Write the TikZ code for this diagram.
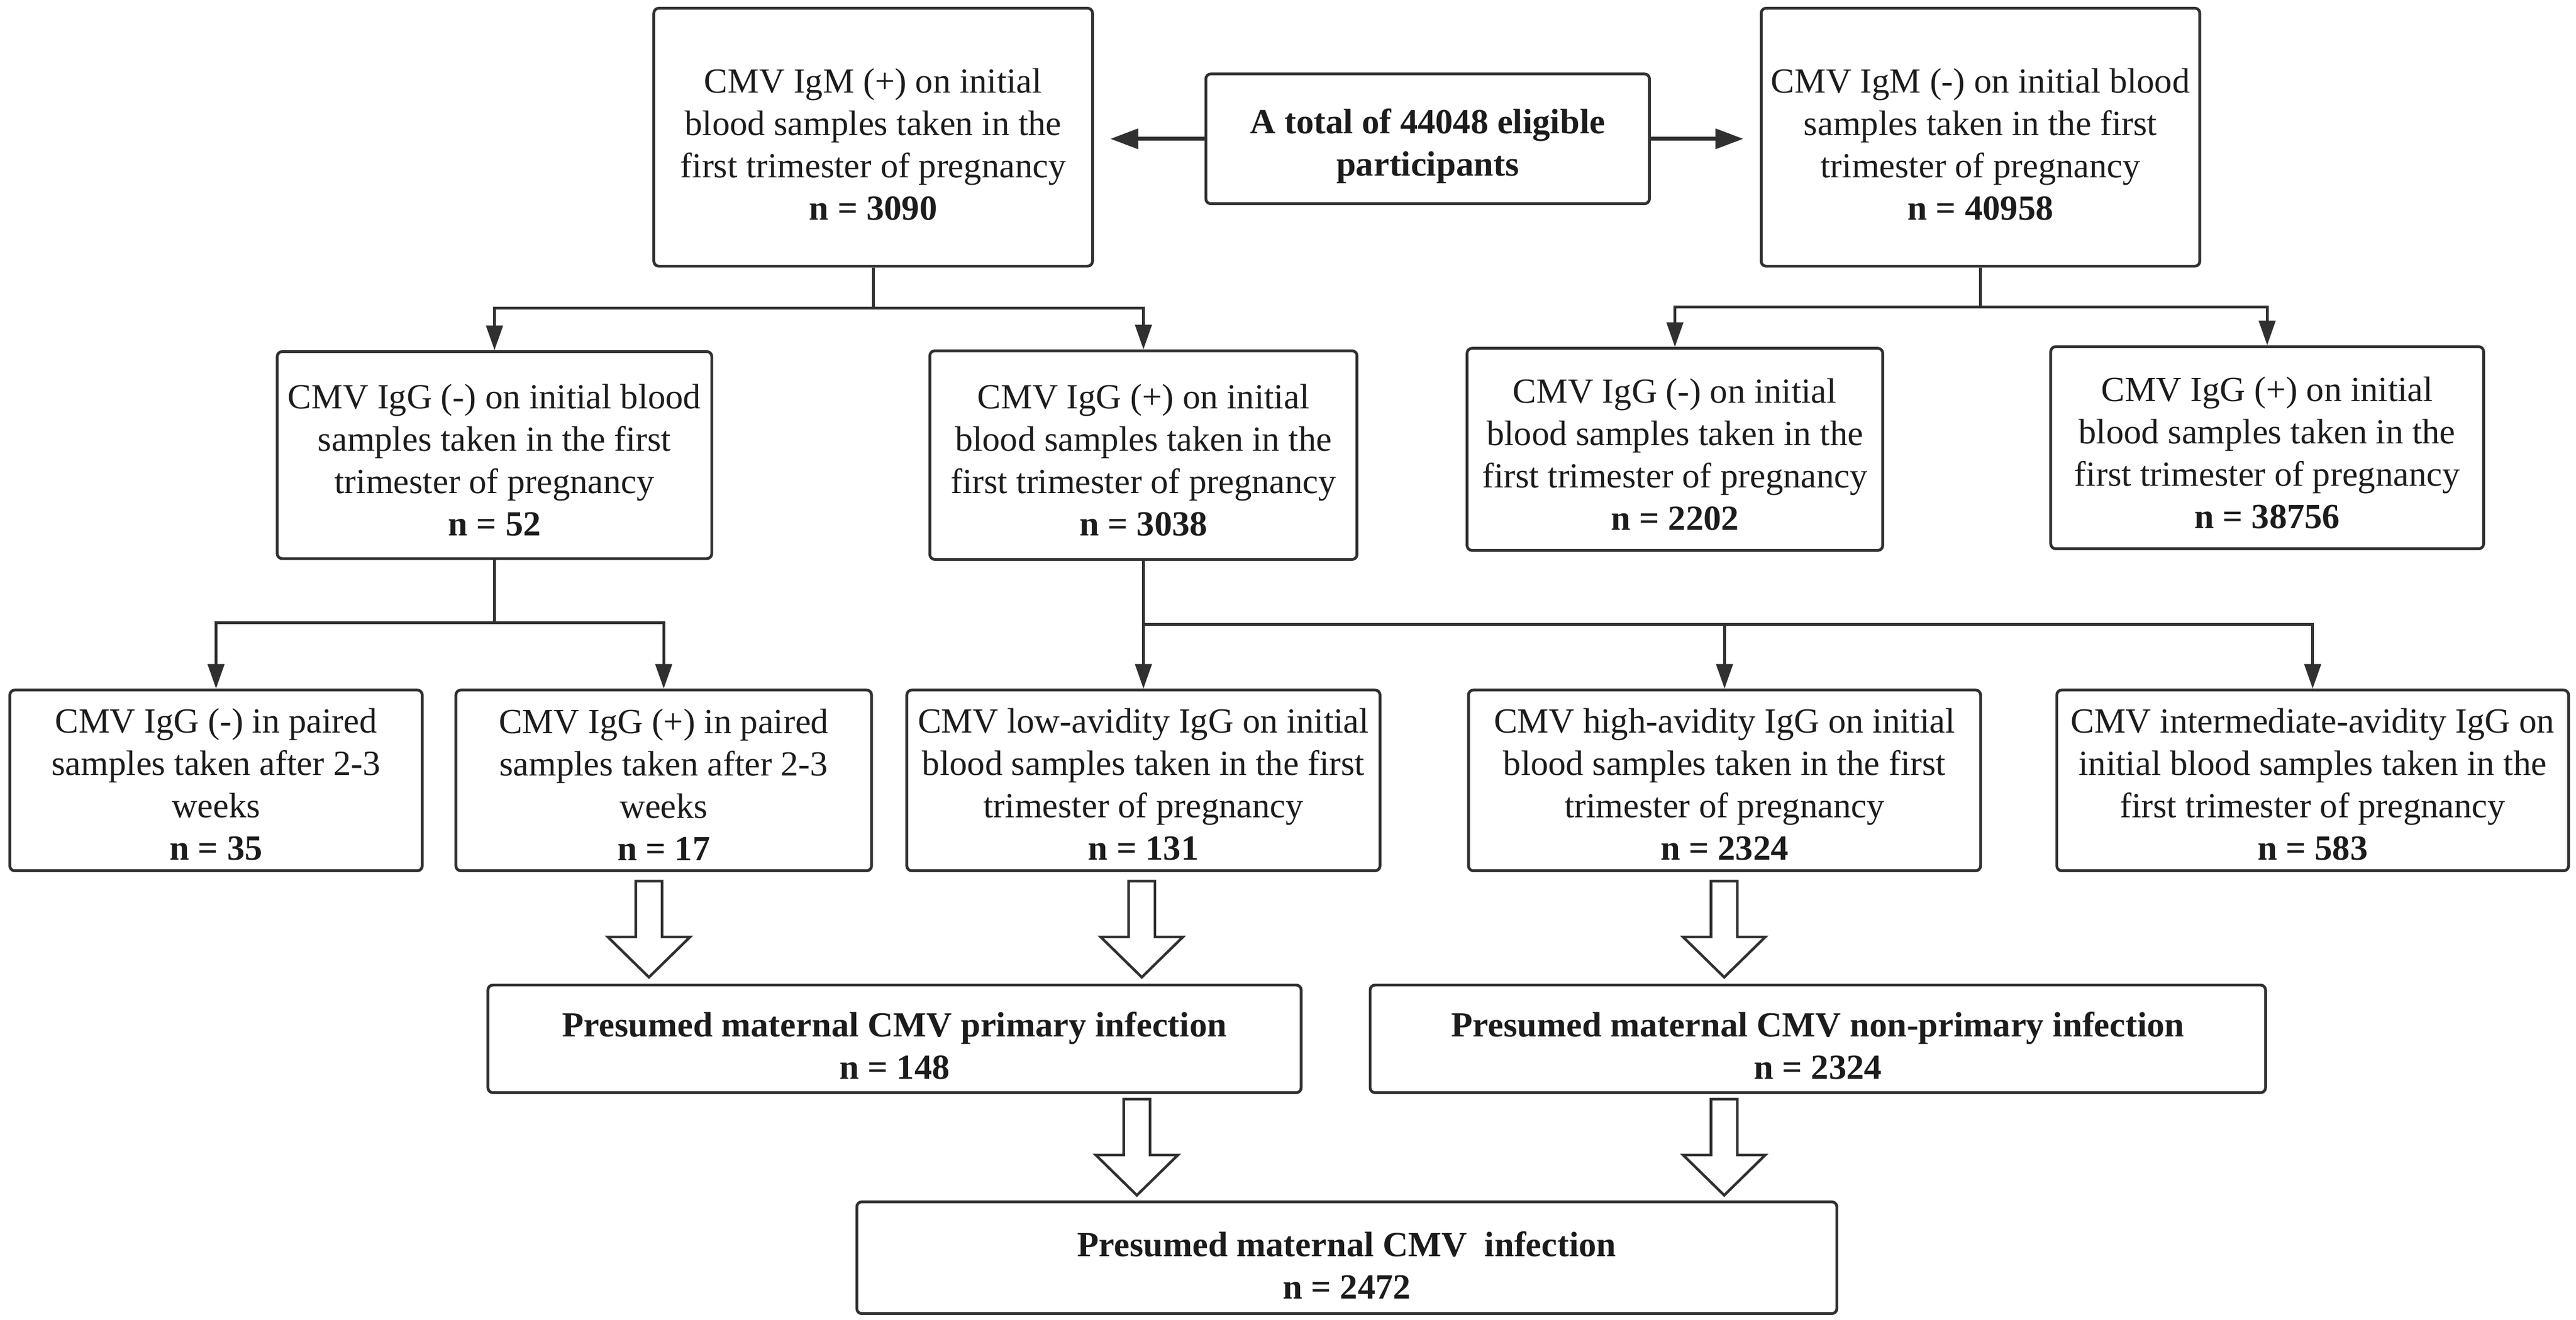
\documentclass[tikz,border=0pt]{standalone}
\usepackage{fontspec}
\setmainfont{Liberation Serif}
\usetikzlibrary{arrows.meta}
\definecolor{lc}{HTML}{303030}
\definecolor{tc}{HTML}{1C1C1C}
\newcommand\boxfont{\fontsize{21.5}{25.8}\selectfont}
\begin{document}
\begin{tikzpicture}[x=1pt,y=-1pt,
  box/.style={draw=lc,line width=1.7pt,rounded corners=3pt,fill=white,inner sep=0pt},
  txt/.style={align=center,inner sep=0pt,text=tc,font=\boxfont},
  boldtxt/.style={txt,font=\boxfont\bfseries},
  conn/.style={draw=lc,line width=1.7pt},
  arr/.style={conn,-{Triangle[length=15pt,width=10pt]}},
  harr/.style={draw=lc,line width=2.4pt,-{Triangle[length=17pt,width=12pt]},shorten >=10pt},
  pics/hollow/.style={code={\draw[draw=lc,line width=1.6pt,fill=white,line join=miter]
      (-8,0) -- (8,0) -- (8,34) -- (25,34) -- (0,58.5) -- (-25,34) -- (-8,34) -- cycle;}}]
\fill[white] (0,0) rectangle (1568,803.08);
\useasboundingbox (0,0) rectangle (1568,803.08);

% top row
\node[box,minimum width=270,minimum height=79] (A) at (869,84.5) {};
\node[boldtxt] (At) at ([yshift=-4.5pt]A.center) {A total of 44048 eligible\\participants};
\node[box,minimum width=267,minimum height=157] (B) at (531.5,83.5) {};
\node[txt] (Bt) at ([yshift=-4.5pt]B.center) {CMV IgM (+) on initial\\blood samples taken in the\\first trimester of pregnancy\\\textbf{n = 3090}};
\node[box,minimum width=267,minimum height=157] (C) at (1205.5,83.5) {};
\node[txt] (Ct) at ([yshift=-4.5pt]C.center) {CMV IgM (-) on initial blood\\samples taken in the first\\trimester of pregnancy\\\textbf{n = 40958}};

% second row
\node[box,minimum width=264.5,minimum height=126] (D) at (301,277) {};
\node[txt] (Dt) at ([yshift=-3pt]D.center) {CMV IgG (-) on initial blood\\samples taken in the first\\trimester of pregnancy\\\textbf{n = 52}};
\node[box,minimum width=260,minimum height=127] (E) at (696,277) {};
\node[txt] (Et) at ([yshift=-3pt]E.center) {CMV IgG (+) on initial\\blood samples taken in the\\first trimester of pregnancy\\\textbf{n = 3038}};
\node[box,minimum width=253,minimum height=123] (F) at (1019.5,273.5) {};
\node[txt] (Ft) at ([yshift=-3pt]F.center) {CMV IgG (-) on initial\\blood samples taken in the\\first trimester of pregnancy\\\textbf{n = 2202}};
\node[box,minimum width=263.5,minimum height=123] (G) at (1380,272.5) {};
\node[txt] (Gt) at ([yshift=-3pt]G.center) {CMV IgG (+) on initial\\blood samples taken in the\\first trimester of pregnancy\\\textbf{n = 38756}};

% third row
\node[box,minimum width=251,minimum height=110] (H) at (131.5,475) {};
\node[txt] (Ht) at ([yshift=-2.5pt]H.center) {CMV IgG (-) in paired\\samples taken after 2-3\\weeks\\\textbf{n = 35}};
\node[box,minimum width=253,minimum height=110] (I) at (404,475) {};
\node[txt] (It) at ([yshift=-2.5pt]I.center) {CMV IgG (+) in paired\\samples taken after 2-3\\weeks\\\textbf{n = 17}};
\node[box,minimum width=288,minimum height=110] (J) at (696,475) {};
\node[txt] (Jt) at ([yshift=-2.5pt]J.center) {CMV low-avidity IgG on initial\\blood samples taken in the first\\trimester of pregnancy\\\textbf{n = 131}};
\node[box,minimum width=311.7,minimum height=110] (K) at (1049.7,475) {};
\node[txt] (Kt) at ([yshift=-2.5pt]K.center) {CMV high-avidity IgG on initial\\blood samples taken in the first\\trimester of pregnancy\\\textbf{n = 2324}};
\node[box,minimum width=311.5,minimum height=110] (L) at (1407.7,475) {};
\node[txt] (Lt) at ([yshift=-2.5pt]L.center) {CMV intermediate-avidity IgG on\\initial blood samples taken in the\\first trimester of pregnancy\\\textbf{n = 583}};

% result rows
\node[box,minimum width=495,minimum height=65.5] (M) at (544.5,632.3) {};
\node[boldtxt] (Mt) at ([yshift=-4pt]M.center) {Presumed maternal CMV primary infection\\n = 148};
\node[box,minimum width=545,minimum height=65.5] (N) at (1106.5,632.3) {};
\node[boldtxt] (Nt) at ([yshift=-4pt]N.center) {Presumed maternal CMV non-primary infection\\n = 2324};
\node[box,minimum width=596.5,minimum height=68] (O) at (819.8,765.5) {};
\node[boldtxt] (Ot) at ([yshift=-4.5pt]O.center) {Presumed maternal CMV\ \ infection\\n = 2472};

% connectors
\draw[harr] (A.west) -- (A.west -| B.east);
\draw[harr] (A.east) -- (A.east -| C.west);

\coordinate (bj) at (531.5,187.5);
\draw[conn] (B.south) -- (bj);
\draw[arr] (bj) -| (D.north);
\draw[arr] (bj) -| (E.north);

\coordinate (cj) at (1205.5,187);
\draw[conn] (C.south) -- (cj);
\draw[arr] (cj) -| (F.north);
\draw[arr] (cj) -| (G.north);

\coordinate (dj) at (301,379);
\draw[conn] (D.south) -- (dj);
\draw[arr] (dj) -| (H.north);
\draw[arr] (dj) -| (I.north);

\coordinate (ej) at (696,380);
\draw[arr] (E.south) -- (J.north);
\draw[arr] (ej) -| (K.north);
\draw[arr] (ej) -| (L.north);

% hollow arrows
\pic at (395,536.3) {hollow};
\pic at (695,536.3) {hollow};
\pic at (1049.5,536.3) {hollow};
\pic at (692,669) {hollow};
\pic at (1049.5,669) {hollow};
\end{tikzpicture}
\end{document}
